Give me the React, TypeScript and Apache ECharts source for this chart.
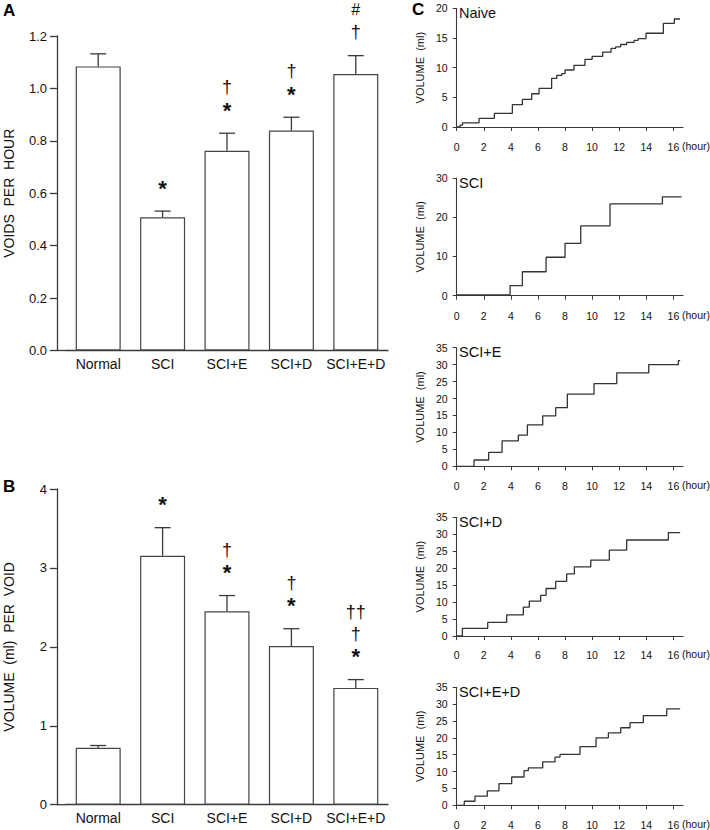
import React, { useEffect, useRef } from 'react';
import * as echarts from 'echarts';

// ---------- data ----------
const categories = ['Normal', 'SCI', 'SCI+E', 'SCI+D', 'SCI+E+D'];

const voidsMean = [1.084, 0.508, 0.762, 0.839, 1.055];
const voidsErrTop = [1.132, 0.532, 0.829, 0.89, 1.125];
const voidsMarks: string[][] = [[], ['*'], ['*', '†'], ['*', '†'], ['†', '#']];

const volMean = [0.72, 3.155, 2.45, 2.01, 1.48];
const volErrTop = [0.75, 3.51, 2.65, 2.23, 1.585];
const volMarks: string[][] = [[], ['*'], ['*', '†'], ['*', '†'], ['*', '†', '††']];

const hourTicks = [0, 2, 4, 6, 8, 10, 12, 14, 16];

const naiveT = [0, 0.25, 0.43, 1.65, 2.78, 4.11, 4.85, 5.54, 6.08, 7.01, 7.39, 7.76, 8.0, 8.66, 9.47, 10.0, 10.78, 11.4, 11.74, 12.1, 12.55, 13.1, 13.4, 13.98, 15.26, 16.07, 16.49];
const naiveV = [0, 0.3, 0.7, 1.46, 2.3, 3.76, 4.66, 5.6, 6.5, 8.2, 8.7, 9.0, 9.6, 10.4, 11.4, 11.9, 12.6, 13.25, 13.5, 13.9, 14.25, 14.6, 14.9, 15.8, 17.45, 18.2, 18.2];

const sciT = [0, 3.94, 4.85, 6.6, 8.0, 9.16, 11.32, 15.19, 16.6];
const sciV = [0.2, 2.55, 6.1, 9.8, 13.35, 17.8, 23.4, 25.2, 25.2];

const sciET = [0, 1.28, 2.36, 3.35, 4.55, 5.22, 6.35, 7.31, 8.17, 10.14, 11.82, 14.18, 16.37, 16.5];
const sciEV = [0, 1.86, 4.1, 7.5, 9.2, 12.2, 14.9, 17.3, 21.3, 24.4, 27.6, 30.0, 31.2, 31.2];

const sciDT = [0, 0.42, 2.29, 3.69, 4.92, 5.36, 6.2, 6.6, 7.31, 8.12, 8.69, 9.9, 11.27, 12.55, 15.63, 16.5];
const sciDV = [0, 2.26, 4.0, 6.2, 8.5, 10.3, 12.0, 14.0, 16.1, 18.3, 20.4, 22.4, 25.3, 28.3, 30.5, 30.5];

const sciEDT = [0, 0.56, 1.35, 2.26, 3.12, 4.06, 4.97, 5.29, 6.35, 7.26, 7.63, 9.1, 10.29, 11.2, 12.11, 12.8, 13.78, 15.51, 16.5];
const sciEDV = [0, 1.2, 2.7, 4.3, 6.4, 8.4, 10.3, 11.1, 12.9, 14.3, 15.1, 17.4, 20.0, 21.5, 23.0, 24.5, 26.6, 28.6, 28.6];

const cTitles = ['Naive', 'SCI', 'SCI+E', 'SCI+D', 'SCI+E+D'];
const cTimes = [naiveT, sciT, sciET, sciDT, sciEDT];
const cVols = [naiveV, sciV, sciEV, sciDV, sciEDV];
const cMax = [20, 30, 35, 35, 35];
const cInterval = [5, 10, 5, 5, 5];

// ---------- layout ----------
const FONT = '"Liberation Sans", Arial, Helvetica, sans-serif';
const AXIS = '#3a3a3a';
const TXT = '#111';

const barGrids = [
  { left: 66, width: 322, top: 36, height: 314.5 },
  { left: 66, width: 322, top: 489, height: 315.7 },
];
const cGrids = [
  { top: 8.3, height: 118.7, xOff: 9 },
  { top: 178, height: 117.7, xOff: 9.3 },
  { top: 347.7, height: 118.6, xOff: 8.7 },
  { top: 517.3, height: 118.7, xOff: 8.3 },
  { top: 687.3, height: 118, xOff: 8.7 },
];
const C_LEFT = 456.7;
const C_WIDTH = 226.3;
const C_XMAX = 16.71;

function errSeries(idx: number, mean: number[], errTop: number[], marks: string[][]) {
  return {
    type: 'custom',
    xAxisIndex: idx,
    yAxisIndex: idx,
    silent: true,
    z: 3,
    data: mean.map((m, i) => [i, m, errTop[i]]),
    renderItem: (params: any, api: any) => {
      const i = api.value(0);
      const base = api.coord([i, api.value(1)]);
      const top = api.coord([i, api.value(2)]);
      const x = base[0];
      const children: any[] = [
        { type: 'line', shape: { x1: x, y1: base[1], x2: x, y2: top[1] }, style: { stroke: AXIS, lineWidth: 1.3 } },
        { type: 'line', shape: { x1: x - 8, y1: top[1], x2: x + 8, y2: top[1] }, style: { stroke: AXIS, lineWidth: 1.3 } },
      ];
      marks[params.dataIndex].forEach((s, k) => {
        const isStar = s === '*';
        children.push({
          type: 'text',
          x,
          y: top[1] - 24 - 22 * k + (isStar ? 1 : 0),
          style: {
            text: s,
            align: 'center',
            verticalAlign: 'middle',
            fill: TXT,
            fontFamily: FONT,
            fontSize: isStar ? 22 : s === '#' ? 16 : 18,
            fontWeight: isStar ? 'bold' : 'normal',
          },
        });
      });
      return { type: 'group', children };
    },
  };
}

function buildOption() {
  const grid: any[] = [];
  const xAxis: any[] = [];
  const yAxis: any[] = [];
  const series: any[] = [];
  const graphic: any[] = [];

  const barNames = ['VOIDS  PER  HOUR', 'VOLUME  (ml)  PER  VOID'];
  const barMax = [1.2, 4];
  const barInterval = [0.2, 1];
  const means = [voidsMean, volMean];
  const errs = [voidsErrTop, volErrTop];
  const marks = [voidsMarks, volMarks];

  barGrids.forEach((g, k) => {
    grid.push({ left: g.left, width: g.width, top: g.top, height: g.height, outerBoundsMode: 'none' });
    xAxis.push({
      type: 'category',
      gridIndex: k,
      data: categories,
      axisLine: { lineStyle: { color: AXIS, width: 1.3 } },
      axisTick: { show: false },
      axisLabel: { color: TXT, fontFamily: FONT, fontSize: 14, margin: 6, interval: 0, hideOverlap: false },
    });
    yAxis.push({
      type: 'value',
      gridIndex: k,
      min: 0,
      max: barMax[k],
      interval: barInterval[k],
      offset: 9,
      name: barNames[k],
      nameLocation: 'middle',
      nameGap: 41,
      nameTextStyle: { color: TXT, fontFamily: FONT, fontSize: 14 },
      splitLine: { show: false },
      axisLine: { show: true, lineStyle: { color: AXIS, width: 1.3 } },
      axisTick: { show: true, length: 7, lineStyle: { color: AXIS, width: 1.3 } },
      axisLabel: {
        color: TXT,
        fontFamily: FONT,
        fontSize: 13,
        margin: 10,
        formatter: (v: number) => (k === 0 ? v.toFixed(1) : String(v)),
      },
    });
    series.push({
      type: 'bar',
      xAxisIndex: k,
      yAxisIndex: k,
      barWidth: 45,
      data: means[k],
      itemStyle: { color: '#fff', borderColor: '#444', borderWidth: 1.2 },
      silent: true,
      z: 2,
    });
    series.push(errSeries(k, means[k], errs[k], marks[k]));
    const yb = g.top + g.height;
    graphic.push({ type: 'line', shape: { x1: 57, y1: yb, x2: g.left, y2: yb }, style: { stroke: AXIS, lineWidth: 1.3 } });
  });

  cGrids.forEach((g, j) => {
    const k = j + 2;
    grid.push({ left: C_LEFT, width: C_WIDTH, top: g.top, height: g.height, outerBoundsMode: 'none' });
    xAxis.push({
      type: 'value',
      gridIndex: k,
      min: 0,
      max: C_XMAX,
      offset: g.xOff,
      splitLine: { show: false },
      axisLine: { lineStyle: { color: AXIS, width: 1.1 } },
      axisTick: { show: true, length: 4, customValues: hourTicks, lineStyle: { color: AXIS } },
      axisLabel: { color: TXT, fontFamily: FONT, fontSize: 10.5, margin: 5, customValues: hourTicks },
    });
    yAxis.push({
      type: 'value',
      gridIndex: k,
      min: 0,
      max: cMax[j],
      interval: cInterval[j],
      offset: 3,
      name: 'VOLUME  (ml)',
      nameLocation: 'middle',
      nameGap: 28,
      nameTextStyle: { color: TXT, fontFamily: FONT, fontSize: 11 },
      splitLine: { show: false },
      axisLine: { show: true, lineStyle: { color: AXIS, width: 1.1 } },
      axisTick: { show: true, length: 4, lineStyle: { color: AXIS } },
      axisLabel: { color: TXT, fontFamily: FONT, fontSize: 10.5, margin: 6 },
    });
    series.push({
      type: 'line',
      xAxisIndex: k,
      yAxisIndex: k,
      step: 'end',
      showSymbol: false,
      silent: true,
      data: cTimes[j].map((t, i) => [t, cVols[j][i]]),
      lineStyle: { color: '#333', width: 1.3 },
    });
    graphic.push({
      type: 'text',
      x: 459,
      y: g.top - 3,
      style: { text: cTitles[j], fill: TXT, fontFamily: FONT, fontSize: 14.5 },
    });
    const axisY = g.top + g.height + g.xOff;
    graphic.push({
      type: 'text',
      x: 682,
      y: axisY + 10,
      style: { text: '(hour)', fill: TXT, fontFamily: FONT, fontSize: 10.5, verticalAlign: 'middle' },
    });
  });

  const letters = [
    { t: 'A', x: 3, y: 2 },
    { t: 'B', x: 3, y: 478 },
    { t: 'C', x: 412, y: 1 },
  ];
  letters.forEach((l) =>
    graphic.push({
      type: 'text',
      x: l.x,
      y: l.y,
      style: { text: l.t, fill: '#000', fontFamily: FONT, fontSize: 17, fontWeight: 'bold' },
    })
  );

  return { animation: false, backgroundColor: '#fff', grid, xAxis, yAxis, series, graphic };
}

export default function App() {
  const ref = useRef<HTMLDivElement>(null);
  useEffect(() => {
    document.body.style.margin = '0';
    const chart = echarts.init(ref.current!, null, { renderer: 'svg' });
    chart.setOption(buildOption() as any);
    return () => chart.dispose();
  }, []);
  return <div ref={ref} style={{ width: 710, height: 830 }} />;
}
